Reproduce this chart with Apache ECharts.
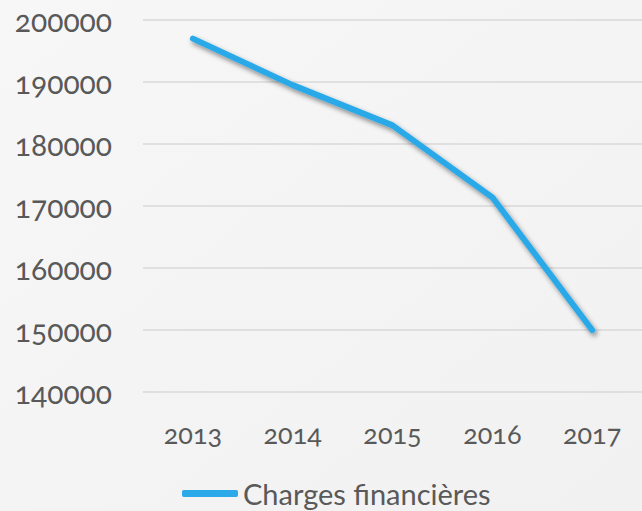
<!DOCTYPE html>
<html>
<head>
<meta charset="utf-8">
<script src="https://cdn.jsdelivr.net/npm/echarts@6/dist/echarts.min.js"></script>
<style>
html,body{margin:0;padding:0;background:#f4f4f4;}
#c{width:642px;height:511px;}
#c text{font-variant-numeric:oldstyle-nums;font-feature-settings:"onum" 1;}
</style>
</head>
<body>
<div id="c"></div>
<script>
const categories = ['2013', '2014', '2015', '2016', '2017'];
const chargesFinancieres = [197000, 189500, 183000, 171400, 150000];
const seriesName = 'Charges financières';
const yMin = 140000, yMax = 200000, yInterval = 10000;

const chart = echarts.init(document.getElementById('c'), null, {renderer: 'svg'});
const font = 'Lato';
chart.setOption({
  backgroundColor: {
    type: 'linear', x: 0, y: 0, x2: 1, y2: 1,
    colorStops: [{offset: 0, color: '#f7f7f7'}, {offset: 1, color: '#f1f1f1'}]
  },
  animation: false,
  grid: {left: 143, right: -6, top: 20, bottom: 119, containLabel: false},
  xAxis: {
    type: 'category',
    data: categories,
    boundaryGap: true,
    axisLine: {show: false},
    axisTick: {show: false},
    axisLabel: {color: '#595959', fontFamily: font, fontSize: 27, margin: 28}
  },
  yAxis: {
    type: 'value',
    min: yMin, max: yMax, interval: yInterval,
    axisLine: {show: false},
    axisTick: {show: false},
    splitLine: {lineStyle: {color: '#d9d9d9', width: 1.5}},
    axisLabel: {color: '#595959', fontFamily: font, fontSize: 30, margin: 31,
      formatter: v => String(v)}
  },
  legend: {
    data: [seriesName],
    left: 177, top: 474,
    icon: 'roundRect',
    itemWidth: 56, itemHeight: 7, itemGap: 10,
    textStyle: {color: '#595959', fontFamily: font, fontSize: 29, lineHeight: 29}
  },
  series: [{
    name: seriesName,
    type: 'line',
    data: chargesFinancieres,
    showSymbol: false,
    symbol: 'none',
    color: '#2ca9e8',
    lineStyle: {
      color: '#2ca9e8', width: 6, cap: 'round', join: 'round',
      shadowColor: 'rgba(0,0,0,0.45)', shadowBlur: 5, shadowOffsetX: 2, shadowOffsetY: 3
    }
  }]
});
</script>
</body>
</html>
